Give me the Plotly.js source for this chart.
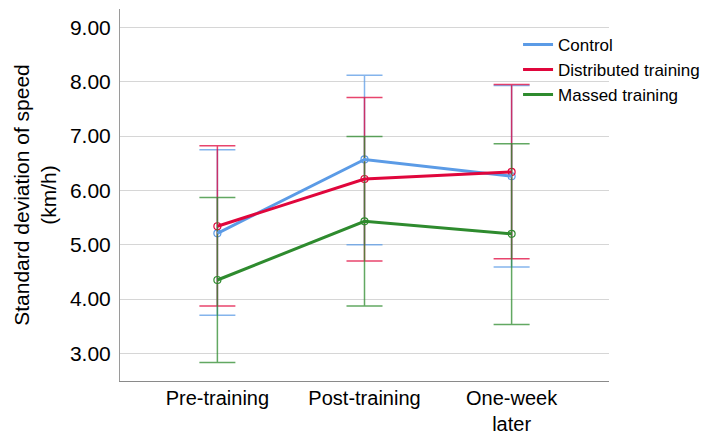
<!DOCTYPE html>
<html>
<head>
<meta charset="utf-8">
<script src="https://cdn.plot.ly/plotly-3.0.1.min.js"></script>
<style>html,body{margin:0;padding:0;background:#fff;}#chart{width:714px;height:439px;}</style>
</head>
<body>
<div id="chart"></div>
<script>
// Data
const categories = ["Pre-training", "Post-training", "One-week<br>later"];
const seriesNames = ["Control", "Distributed training", "Massed training"];

const controlMean  = [5.21, 6.57, 6.26];
const controlUpper = [6.75, 8.12, 7.93];
const controlLower = [3.70, 5.00, 4.59];

const distributedMean  = [5.34, 6.21, 6.34];
const distributedUpper = [6.82, 7.71, 7.95];
const distributedLower = [3.87, 4.70, 4.74];

const massedMean  = [4.35, 5.43, 5.20];
const massedUpper = [5.87, 6.99, 6.86];
const massedLower = [2.83, 3.87, 3.53];

const yTickVals = [3, 4, 5, 6, 7, 8, 9];
const yTickText = ["3.00", "4.00", "5.00", "6.00", "7.00", "8.00", "9.00"];

const colors = ["#5b9be6", "#e0063c", "#2e8b2e"];
const errColors = ["rgba(91,155,230,0.75)", "rgba(224,6,60,0.75)", "rgba(46,139,46,0.75)"];

const groups = [
  {mean: controlMean, up: controlUpper, lo: controlLower},
  {mean: distributedMean, up: distributedUpper, lo: distributedLower},
  {mean: massedMean, up: massedUpper, lo: massedLower}
];

const traces = [];
groups.forEach((g, i) => {
  traces.push({
    type: "scatter", mode: "markers", x: categories, y: g.mean,
    showlegend: false, hoverinfo: "skip",
    marker: {symbol: "circle-open", size: 7, color: colors[i], line: {width: 1.2, color: colors[i]}},
    error_y: {
      type: "data", symmetric: false,
      array: g.up.map((u, k) => u - g.mean[k]),
      arrayminus: g.lo.map((l, k) => g.mean[k] - l),
      color: errColors[i], thickness: 1.5, width: 18
    }
  });
});
groups.forEach((g, i) => {
  traces.push({
    type: "scatter", mode: "lines", x: categories, y: g.mean,
    name: seriesNames[i],
    line: {color: colors[i], width: 3}
  });
});

const layout = {
  width: 714, height: 439,
  margin: {l: 120, r: 102, t: 9, b: 58},
  paper_bgcolor: "#fff", plot_bgcolor: "#fff",
  font: {family: "Liberation Sans, Arial, sans-serif", color: "#000"},
  showlegend: true,
  legend: {
    x: 0.814, xanchor: "left", y: 0.952, yanchor: "top",
    bgcolor: "rgba(0,0,0,0)", borderwidth: 0,
    font: {size: 17, color: "#000"},
    traceorder: "normal"
  },
  xaxis: {
    type: "category", range: [-0.662, 2.662],
    showgrid: false, zeroline: false,
    showline: true, linecolor: "#8a8a8a", linewidth: 1,
    ticks: "", tickfont: {size: 20, color: "#000"},
    ticklabelstandoff: -1
  },
  yaxis: {
    range: [2.49, 9.34],
    tickvals: yTickVals, ticktext: yTickText,
    showgrid: true, gridcolor: "#d6d6d6", gridwidth: 1,
    zeroline: false,
    showline: true, linecolor: "#9a9a9a", linewidth: 1,
    ticks: "", tickfont: {size: 21, color: "#000"},
    ticklabelstandoff: 4,
    title: {text: "Standard deviation of speed<br>(km/h)", font: {size: 21, color: "#000"}, standoff: 7}
  }
};

Plotly.newPlot("chart", traces, layout, {displayModeBar: false, staticPlot: true});
</script>
</body>
</html>
